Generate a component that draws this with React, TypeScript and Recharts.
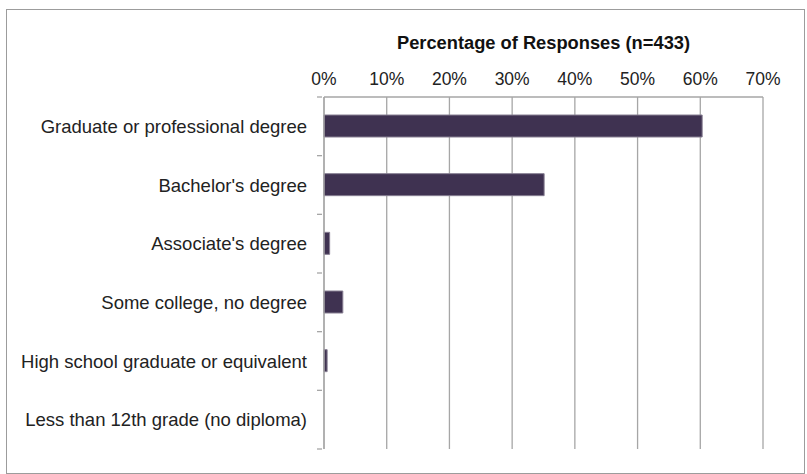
import { Bar, BarChart, CartesianGrid, XAxis, YAxis } from "recharts";

const categories = [
	"Graduate or professional degree",
	"Bachelor's degree",
	"Associate's degree",
	"Some college, no degree",
	"High school graduate or equivalent",
	"Less than 12th grade (no diploma)",
];

const shares = [0.603, 0.351, 0.009, 0.03, 0.005, 0];

const percentTicks = [0, 0.1, 0.2, 0.3, 0.4, 0.5, 0.6, 0.7];

const chartData = categories.map((category, i) => ({
	category,
	share: shares[i],
}));

const WIDTH = 807;
const HEIGHT = 474;
const MARGIN = { top: 67, right: 44, bottom: 25, left: 0 };
const AXIS_GRAY = "#a6a6a6";
const FONT = "'Liberation Sans', Arial, sans-serif";

const plotHeight = HEIGHT - MARGIN.top - 30 - MARGIN.bottom;
const band = plotHeight / categories.length;

function CategoryTick(props: any) {
	const { x, y, payload, index } = props;
	const axisX = x + 6;
	return (
		<g>
			<line x1={axisX - 5} x2={axisX} y1={y - band / 2} y2={y - band / 2} stroke={AXIS_GRAY} strokeWidth={1.3} />
			{index === categories.length - 1 && (
				<line x1={axisX - 5} x2={axisX} y1={y + band / 2} y2={y + band / 2} stroke={AXIS_GRAY} strokeWidth={1.3} />
			)}
			<text
				x={axisX - 15}
				y={y}
				textAnchor="end"
				dominantBaseline="central"
				fontSize={18.5}
				fontFamily={FONT}
				fill="#222"
			>
				{payload.value}
			</text>
		</g>
	);
}

function PercentTick(props: any) {
	const { x, y, payload } = props;
	return (
		<text x={x} y={y} textAnchor="middle" fontSize={17.5} fontFamily={FONT} fill="#222">
			{`${Math.round(payload.value * 100)}%`}
		</text>
	);
}

export default function App() {
	return (
		<div style={{ position: "absolute", left: 0, top: 0, width: WIDTH, height: HEIGHT, background: "#fff" }}>
			<div
				style={{
					position: "absolute",
					left: 6,
					top: 9,
					width: 797,
					height: 463,
					border: "1.5px solid #9c9c9c",
				}}
			/>
			<BarChart
				width={WIDTH}
				height={HEIGHT}
				data={chartData}
				layout="vertical"
				margin={MARGIN}
				style={{ position: "absolute", left: 0, top: 0 }}
			>
				<CartesianGrid horizontal={false} stroke={AXIS_GRAY} strokeWidth={1.3} />
				<XAxis
					type="number"
					orientation="top"
					domain={[0, 0.7]}
					ticks={percentTicks}
					height={30}
					tickLine={false}
					tickSize={4}
					tickMargin={8}
					axisLine={{ stroke: AXIS_GRAY, strokeWidth: 1.3 }}
					tick={<PercentTick />}
					interval={0}
					label={{
						value: "Percentage of Responses (n=433)",
						position: "top",
						offset: 18,
						fontSize: 18.3,
						fontWeight: "bold",
						fontFamily: FONT,
						fill: "#111",
					}}
				/>
				<YAxis
					type="category"
					dataKey="category"
					width={324}
					tickLine={false}
					axisLine={{ stroke: AXIS_GRAY, strokeWidth: 1.3 }}
					tick={<CategoryTick />}
					interval={0}
				/>
				<Bar
					dataKey="share"
					fill="#3f3251"
					stroke="#877e92"
					strokeWidth={1}
					barSize={22}
					isAnimationActive={false}
				/>
			</BarChart>
		</div>
	);
}
